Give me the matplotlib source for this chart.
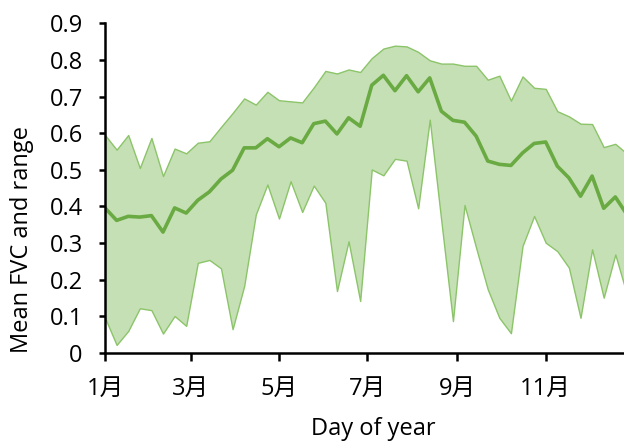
import numpy as np
import pandas as pd
import matplotlib
matplotlib.use("Agg")
import matplotlib.pyplot as plt
import matplotlib.dates as mdates

# 8-day composites through the year
dates = pd.date_range("2021-01-01", periods=46, freq="8D")

fvc_mean = [0.396, 0.362, 0.373, 0.371, 0.375, 0.330, 0.396, 0.382, 0.417, 0.440,
            0.475, 0.499, 0.560, 0.560, 0.585, 0.563, 0.587, 0.574, 0.626, 0.633,
            0.598, 0.642, 0.619, 0.731, 0.758, 0.716, 0.757, 0.713, 0.751, 0.660,
            0.635, 0.630, 0.592, 0.524, 0.515, 0.512, 0.546, 0.572, 0.576, 0.510,
            0.478, 0.428, 0.483, 0.395, 0.426, 0.378]
fvc_max = [0.595, 0.555, 0.595, 0.505, 0.587, 0.483, 0.558, 0.545, 0.574, 0.578,
           0.617, 0.655, 0.695, 0.678, 0.713, 0.690, 0.687, 0.684, 0.725, 0.770,
           0.763, 0.774, 0.767, 0.805, 0.831, 0.839, 0.837, 0.822, 0.799, 0.790,
           0.790, 0.784, 0.784, 0.746, 0.757, 0.689, 0.755, 0.724, 0.721, 0.660,
           0.646, 0.626, 0.625, 0.562, 0.571, 0.544]
fvc_min = [0.096, 0.022, 0.060, 0.122, 0.117, 0.053, 0.101, 0.074, 0.246, 0.254,
           0.231, 0.065, 0.183, 0.378, 0.460, 0.367, 0.469, 0.385, 0.457, 0.410,
           0.169, 0.305, 0.142, 0.501, 0.485, 0.530, 0.525, 0.395, 0.637, 0.360,
           0.087, 0.404, 0.287, 0.174, 0.096, 0.054, 0.292, 0.374, 0.301, 0.278,
           0.233, 0.096, 0.283, 0.151, 0.269, 0.160]

month_ticks = [1, 3, 5, 7, 9, 11]

plt.rcParams['font.family'] = ['Open Sans', 'Noto Sans CJK SC', 'DejaVu Sans']
plt.rcParams['font.size'] = 17

fig = plt.figure(figsize=(6.24, 4.43), dpi=100)
ax = fig.add_axes([0.1683, 0.2032, 0.8317, 0.7442])

ax.fill_between(dates, fvc_min, fvc_max, facecolor="#c5e0b4", edgecolor="#8cc46a", linewidth=1.0)
ax.plot(dates, fvc_mean, color="#6aaa42", linewidth=2.6)

ax.set_ylim(0, 0.9)
ax.set_yticks(np.arange(0, 0.91, 0.1))
ax.set_yticklabels(["0"] + ["%.1f" % v for v in np.arange(0.1, 0.91, 0.1)])
ax.set_xlim(pd.Timestamp("2021-01-01"), pd.Timestamp("2021-12-25"))
ax.xaxis.set_major_locator(mdates.MonthLocator(bymonth=month_ticks))
ax.set_xticklabels([str(m) + "月" for m in month_ticks])

for s in ["top", "right"]:
    ax.spines[s].set_visible(False)
for s in ["left", "bottom"]:
    ax.spines[s].set_linewidth(1.8)
    ax.spines[s].set_color("black")

ax.tick_params(axis="y", direction="out", length=4, width=1.8, pad=12)
ax.tick_params(axis="x", direction="out", length=5.5, width=1.8, pad=12)

fig.text(0.036, 0.46, "Mean FVC and range", rotation=90, ha="center", va="center")
fig.text(0.598, 0.032, "Day of year", ha="center", va="center")

fig.savefig("out.png", dpi=100)
